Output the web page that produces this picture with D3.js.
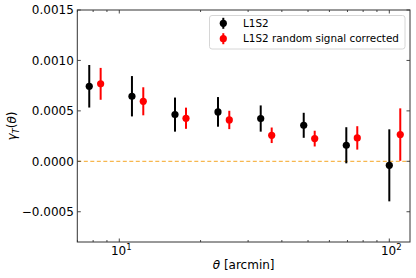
<!DOCTYPE html>
<html><head><meta charset="utf-8">
<script src="https://cdn.jsdelivr.net/npm/d3@7"></script>
<style>body{margin:0;background:#fff;}svg{display:block;font-family:"DejaVu Sans",sans-serif;}</style>
</head><body><svg id="c" width="416" height="278"></svg>
<script>
const thetaBlack = [7.74, 11.14, 16.08, 23.2, 33.4, 48.2, 69.3, 100];
const gammaBlack = [0.000744, 0.000645, 0.000463, 0.00049, 0.000424, 0.000357, 0.000159, -0.00004];
const errBlack   = [0.000211, 0.0002, 0.000169, 0.000147, 0.00013, 0.000124, 0.000179, 0.000357];
const thetaRed   = [8.53, 12.27, 17.66, 25.55, 36.68, 52.93, 76.1, 109.8];
const gammaRed   = [0.000768, 0.000595, 0.000427, 0.00041, 0.000258, 0.000225, 0.000232, 0.000265];
const errRed     = [0.000158, 0.000139, 0.000105, 0.000091, 0.000077, 0.000078, 0.000116, 0.00026];
const yTicks = [-0.0005, 0.0, 0.0005, 0.001, 0.0015];
const yTickLabels = ["\u22120.0005", "0.0000", "0.0005", "0.0010", "0.0015"];
const xMajor = [10, 100];
const xMajorExp = ["1", "2"];
const xMinor = [7, 8, 9, 20, 30, 40, 50, 60, 70, 80, 90];
const legendLabels = ["L1S2", "L1S2 random signal corrected"];

const L = 77.3, R = 410, T = 10, B = 242;
const svg = d3.select("#c");
const x = d3.scaleLog().domain([6.99, 119.3]).range([L, R]);
const y = d3.scaleLinear().domain([-0.0008, 0.0015]).range([B, T]);

// zero line
svg.append("line").attr("x1", L).attr("x2", R).attr("y1", y(0)).attr("y2", y(0))
  .attr("stroke", "#f5a623").attr("stroke-width", 1).attr("stroke-dasharray", "4,2.5");

function series(tx, gy, er, color) {
  const g = svg.append("g");
  tx.forEach((t, i) => {
    g.append("line").attr("x1", x(t)).attr("x2", x(t))
      .attr("y1", y(gy[i] - er[i])).attr("y2", y(gy[i] + er[i]))
      .attr("stroke", color).attr("stroke-width", 2);
    g.append("circle").attr("cx", x(t)).attr("cy", y(gy[i])).attr("r", 3.6).attr("fill", color);
  });
}
series(thetaBlack, gammaBlack, errBlack, "#000");
series(thetaRed, gammaRed, errRed, "#ff0000");

// frame
svg.append("rect").attr("x", L).attr("y", T).attr("width", R - L).attr("height", B - T)
  .attr("fill", "none").attr("stroke", "#333").attr("stroke-width", 1);

const tk = svg.append("g").attr("stroke", "#333").attr("stroke-width", 0.9);
yTicks.forEach((v, i) => {
  const yy = y(v);
  tk.append("line").attr("x1", L).attr("x2", L + 3.5).attr("y1", yy).attr("y2", yy);
  tk.append("line").attr("x1", R).attr("x2", R - 3.5).attr("y1", yy).attr("y2", yy);
  svg.append("text").attr("x", L - 3.5).attr("y", yy).attr("dy", "0.36em")
    .attr("text-anchor", "end").attr("font-size", 12).attr("fill", "#000").text(yTickLabels[i]);
});
xMajor.forEach((v, i) => {
  const xx = x(v);
  tk.append("line").attr("x1", xx).attr("x2", xx).attr("y1", B).attr("y2", B - 3.5);
  tk.append("line").attr("x1", xx).attr("x2", xx).attr("y1", T).attr("y2", T + 3.5);
  const t = svg.append("text").attr("x", xx + 2).attr("y", 255).attr("text-anchor", "middle")
    .attr("font-size", 12).attr("fill", "#000");
  t.append("tspan").text("10");
  t.append("tspan").attr("dy", -5).attr("font-size", 8.5).text(xMajorExp[i]);
});
xMinor.forEach(v => {
  const xx = x(v);
  tk.append("line").attr("x1", xx).attr("x2", xx).attr("y1", B).attr("y2", B - 2);
  tk.append("line").attr("x1", xx).attr("x2", xx).attr("y1", T).attr("y2", T + 2);
});

// axis labels
const xl = svg.append("text").attr("x", (L + R) / 2).attr("y", 269).attr("text-anchor", "middle")
  .attr("font-size", 12).attr("fill", "#000");
xl.append("tspan").attr("font-style", "italic").text("\u03b8");
xl.append("tspan").text(" [arcmin]");

const yl = svg.append("text").attr("transform", `translate(16,${(T + B) / 2}) rotate(-90)`)
  .attr("text-anchor", "middle").attr("font-size", 12).attr("fill", "#000");
yl.append("tspan").attr("font-style", "italic").text("\u03b3");
yl.append("tspan").attr("font-style", "italic").attr("font-size", 8.5).attr("dy", 2.5).text("T");
yl.append("tspan").attr("dy", -2.5).text("(");
yl.append("tspan").attr("font-style", "italic").text("\u03b8");
yl.append("tspan").text(")");

// legend
const lg = svg.append("g");
lg.append("rect").attr("x", 209.5).attr("y", 15.5).attr("width", 195.5).attr("height", 33.5)
  .attr("rx", 2.5).attr("fill", "#fff").attr("fill-opacity", 0.8).attr("stroke", "#d6d6d6").attr("stroke-width", 1);
[["#000", 23.3], ["#ff0000", 38.7]].forEach(([c, yy], i) => {
  lg.append("line").attr("x1", 223.3).attr("x2", 223.3).attr("y1", yy - 5.5).attr("y2", yy + 5.5)
    .attr("stroke", c).attr("stroke-width", 2);
  lg.append("circle").attr("cx", 223.3).attr("cy", yy).attr("r", 3.6).attr("fill", c);
  lg.append("text").attr("x", 243).attr("y", yy).attr("dy", "0.36em").attr("font-size", 10.4)
    .attr("fill", "#000").text(legendLabels[i]);
});
</script></body></html>
